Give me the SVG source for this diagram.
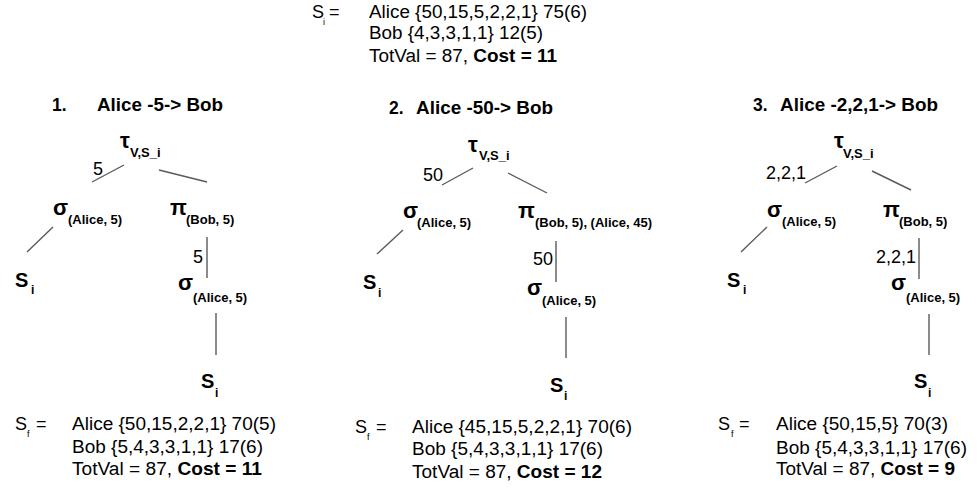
<svg xmlns="http://www.w3.org/2000/svg" width="979" height="487" viewBox="0 0 979 487">
<style>
text{font-family:"Liberation Sans",Arial,sans-serif;fill:#000}
.n{font-size:18px}
.sn{font-size:9px}
.t{font-size:17.5px;font-weight:bold}
.g{font-size:22px;font-weight:bold}
.gs{font-size:13px;font-weight:bold}
.s{font-size:20px;font-weight:bold}
.ss{font-size:12px;font-weight:bold}
.e{font-size:18px}
.b{font-weight:bold}
.c line{stroke:#5a5a5a;stroke-width:1.4}
</style>
<rect width="979" height="487" fill="#fff"/>
<g id="state-initial">
<text class="n" x="312" y="18">S</text><text class="sn" x="323" y="25">i</text><text class="n" x="329" y="18">=</text>
<text class="n" x="369" y="18" textLength="218" lengthAdjust="spacingAndGlyphs">Alice {50,15,5,2,2,1} 75(6)</text>
<text class="n" x="369" y="39" textLength="174" lengthAdjust="spacingAndGlyphs">Bob {4,3,3,1,1} 12(5)</text>
<text class="n" x="369" y="62" textLength="188" lengthAdjust="spacingAndGlyphs">TotVal = 87, <tspan class="b">Cost = 11</tspan></text>
</g>
<g class="c" id="connectors">
<line x1="124" y1="165" x2="92" y2="182"/>
<line x1="159" y1="170" x2="207" y2="182"/>
<line x1="53" y1="227" x2="27" y2="252"/>
<line x1="207" y1="237" x2="207" y2="278"/>
<line x1="216" y1="313" x2="216" y2="355"/>
<line x1="473" y1="168" x2="442" y2="185"/>
<line x1="508" y1="173" x2="547" y2="193"/>
<line x1="403" y1="230" x2="377" y2="254"/>
<line x1="556" y1="241" x2="556" y2="282"/>
<line x1="566" y1="317" x2="566" y2="358"/>
<line x1="837" y1="166" x2="805" y2="183"/>
<line x1="872" y1="171" x2="911" y2="190"/>
<line x1="767" y1="227" x2="741" y2="252"/>
<line x1="919" y1="238" x2="919" y2="279"/>
<line x1="929" y1="314" x2="929" y2="355"/>
</g>
<g id="edge-labels">
<text class="e" x="93" y="175">5</text>
<text class="e" x="193" y="263">5</text>
<text class="e" x="423" y="181">50</text>
<text class="e" x="533" y="265">50</text>
<text class="e" x="766" y="179">2,2,1</text>
<text class="e" x="876" y="263">2,2,1</text>
</g>
<!-- Section 1 -->
<g id="title1"><text class="t" x="52" y="111">1.</text><text class="t" x="97" y="111" textLength="126" lengthAdjust="spacingAndGlyphs">Alice -5-&gt; Bob</text></g>
<g id="tau1"><text class="g" x="120" y="148">τ</text><text class="gs" x="130" y="157">V,S_i</text></g>
<g id="sigma1a"><text class="g" x="53" y="215">σ</text><text class="gs" x="68" y="224">(Alice, 5)</text></g>
<g id="pi1"><text class="g" x="170" y="215">π</text><text class="gs" x="186" y="224">(Bob, 5)</text></g>
<g id="si1a"><text class="s" x="15" y="287">S</text><text class="ss" x="31" y="294">i</text></g>
<g id="sigma1b"><text class="g" x="178" y="290">σ</text><text class="gs" x="193" y="302">(Alice, 5)</text></g>
<g id="si1b"><text class="s" x="201" y="388">S</text><text class="ss" x="215" y="397">i</text></g>
<g id="sf1">
<text class="n" x="15" y="430">S</text><text class="sn" x="27" y="437">f</text><text class="n" x="36" y="430">=</text>
<text class="n" x="72" y="430" textLength="204" lengthAdjust="spacingAndGlyphs">Alice {50,15,2,2,1} 70(5)</text>
<text class="n" x="72" y="453" textLength="191" lengthAdjust="spacingAndGlyphs">Bob {5,4,3,3,1,1} 17(6)</text>
<text class="n" x="72" y="475" textLength="190" lengthAdjust="spacingAndGlyphs">TotVal = 87, <tspan class="b">Cost = 11</tspan></text>
</g>
<!-- Section 2 -->
<g id="title2"><text class="t" x="389" y="114">2.</text><text class="t" x="416" y="114" textLength="137" lengthAdjust="spacingAndGlyphs">Alice -50-&gt; Bob</text></g>
<g id="tau2"><text class="g" x="468" y="152">τ</text><text class="gs" x="479" y="160">V,S_i</text></g>
<g id="sigma2a"><text class="g" x="403" y="218">σ</text><text class="gs" x="417" y="227">(Alice, 5)</text></g>
<g id="pi2"><text class="g" x="518" y="218">π</text><text class="gs" x="535" y="227">(Bob, 5), (Alice, 45)</text></g>
<g id="si2a"><text class="s" x="363" y="289">S</text><text class="ss" x="378" y="297">i</text></g>
<g id="sigma2b"><text class="g" x="527" y="295">σ</text><text class="gs" x="542" y="305">(Alice, 5)</text></g>
<g id="si2b"><text class="s" x="550" y="392">S</text><text class="ss" x="564" y="400">i</text></g>
<g id="sf2">
<text class="n" x="355" y="433">S</text><text class="sn" x="367" y="440">f</text><text class="n" x="376" y="433">=</text>
<text class="n" x="412" y="433" textLength="220" lengthAdjust="spacingAndGlyphs">Alice {45,15,5,2,2,1} 70(6)</text>
<text class="n" x="412" y="455" textLength="191" lengthAdjust="spacingAndGlyphs">Bob {5,4,3,3,1,1} 17(6)</text>
<text class="n" x="412" y="478" textLength="190" lengthAdjust="spacingAndGlyphs">TotVal = 87, <tspan class="b">Cost = 12</tspan></text>
</g>
<!-- Section 3 -->
<g id="title3"><text class="t" x="753" y="111">3.</text><text class="t" x="780" y="111" textLength="158" lengthAdjust="spacingAndGlyphs">Alice -2,2,1-&gt; Bob</text></g>
<g id="tau3"><text class="g" x="834" y="148">τ</text><text class="gs" x="843" y="158">V,S_i</text></g>
<g id="sigma3a"><text class="g" x="767" y="217">σ</text><text class="gs" x="782" y="226">(Alice, 5)</text></g>
<g id="pi3"><text class="g" x="883" y="217">π</text><text class="gs" x="899" y="226">(Bob, 5)</text></g>
<g id="si3a"><text class="s" x="727" y="287">S</text><text class="ss" x="743" y="294">i</text></g>
<g id="sigma3b"><text class="g" x="891" y="290">σ</text><text class="gs" x="906" y="302">(Alice, 5)</text></g>
<g id="si3b"><text class="s" x="914" y="388">S</text><text class="ss" x="928" y="397">i</text></g>
<g id="sf3">
<text class="n" x="718" y="430">S</text><text class="sn" x="731" y="437">f</text><text class="n" x="739" y="430">=</text>
<text class="n" x="776" y="430" textLength="172" lengthAdjust="spacingAndGlyphs">Alice {50,15,5} 70(3)</text>
<text class="n" x="776" y="454" textLength="191" lengthAdjust="spacingAndGlyphs">Bob {5,4,3,3,1,1} 17(6)</text>
<text class="n" x="776" y="475" textLength="179" lengthAdjust="spacingAndGlyphs">TotVal = 87, <tspan class="b">Cost = 9</tspan></text>
</g>
</svg>
